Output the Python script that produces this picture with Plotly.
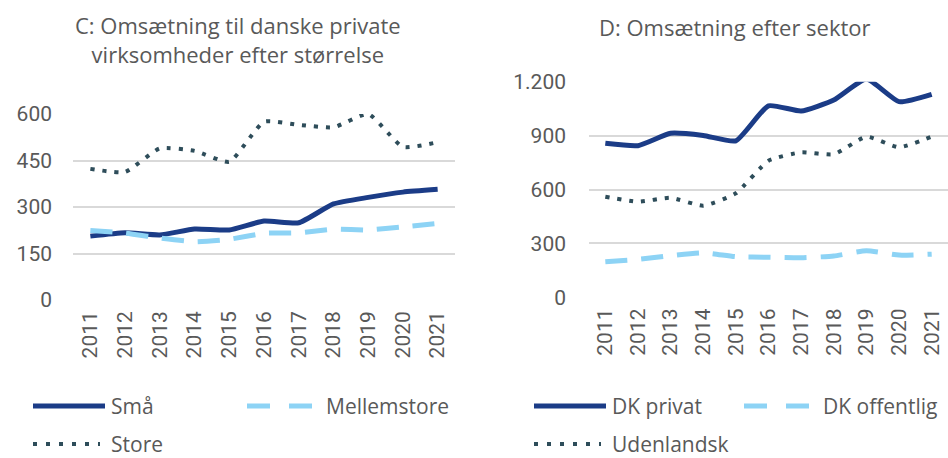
import plotly.graph_objects as go

years = ["2011", "2012", "2013", "2014", "2015", "2016", "2017", "2018", "2019", "2020", "2021"]

# Panel C: Omsætning til danske private virksomheder efter størrelse
smaa = [206, 217, 210, 229, 226, 255, 249, 310, 331, 348, 357]
mellemstore = [224, 216, 200, 188, 196, 215, 217, 228, 226, 236, 247]
store = [423, 413, 489, 481, 446, 575, 565, 557, 600, 494, 509]

# Panel D: Omsætning efter sektor
dk_privat = [857, 844, 913, 901, 871, 1066, 1037, 1098, 1215, 1089, 1130]
dk_offentlig = [198, 211, 232, 248, 226, 223, 220, 230, 259, 235, 240]
udenlandsk = [560, 532, 554, 510, 579, 760, 807, 796, 894, 835, 894]

names_c = ["Små", "Mellemstore", "Store"]
names_d = ["DK privat", "DK offentlig", "Udenlandsk"]
title_c = "C: Omsætning til danske private<br>virksomheder efter størrelse"
title_d = "D: Omsætning efter sektor"

W, H = 948, 458
NAVY = "#1B3C87"
LIGHT = "#8DD3F5"
SLATE = "#2E4D5A"
GREY = "#595959"
GRID = "#D9D9D9"
FONT = "Open Sans"
TICKFONT = "Roboto"

def px(x):
    return x / W

def py(y):
    return 1 - y / H

styles = [
    dict(color=NAVY, width=5, dash="solid"),
    dict(color=LIGHT, width=5, dash="22px,14px"),
    dict(color=SLATE, width=4, dash="4px,8px"),
]

fig = go.Figure()

for series, name, st in zip([smaa, mellemstore, store], names_c, styles):
    fig.add_trace(go.Scatter(x=years, y=series, name=name, mode="lines",
                             line=dict(shape="spline", smoothing=0.5, **st),
                             xaxis="x", yaxis="y", showlegend=False, cliponaxis=False))
for series, name, st in zip([dk_privat, dk_offentlig, udenlandsk], names_d, styles):
    fig.add_trace(go.Scatter(x=years, y=series, name=name, mode="lines",
                             line=dict(shape="spline", smoothing=0.5, **st),
                             xaxis="x2", yaxis="y2", showlegend=False, cliponaxis=False))

axis_common = dict(showline=False, zeroline=False, ticks="", automargin=False,
                   tickfont=dict(family=TICKFONT, size=21, color=GREY))
xrange = [-0.5, len(years) - 0.5]

fig.update_layout(
    width=W, height=H,
    margin=dict(l=0, r=0, t=0, b=0, autoexpand=False),
    paper_bgcolor="white", plot_bgcolor="white",
    separators=",.",
    showlegend=False,
    xaxis=dict(domain=[px(73), px(455)], anchor="y", showgrid=False, range=xrange,
               tickangle=-90, ticklabelstandoff=6, **axis_common),
    yaxis=dict(domain=[py(300), py(114)], anchor="x", range=[0, 600],
               tickvals=[0, 150, 300, 450, 600], showgrid=True,
               gridcolor=GRID, gridwidth=1.5, ticklabelstandoff=20, **axis_common),
    xaxis2=dict(domain=[px(589), px(948)], anchor="y2", showgrid=False, range=xrange,
                tickangle=-90, ticklabelstandoff=6, **axis_common),
    yaxis2=dict(domain=[py(297.3), py(81.7)], anchor="x2", range=[0, 1200],
                tickvals=[0, 300, 600, 900, 1200], tickformat=",d", showgrid=True,
                gridcolor=GRID, gridwidth=1.5, ticklabelstandoff=22, **axis_common),
)

annotations = [
    dict(text=title_c, x=px(238), y=py(40)),
    dict(text=title_d, x=px(735), y=py(27)),
]
for a in annotations:
    fig.add_annotation(xref="paper", yref="paper", xanchor="center", yanchor="middle",
                       showarrow=False, font=dict(family=FONT, size=22, color=GREY), **a)

# Manual legends (long keys as in the original)
legend_items = [
    (names_c[0], 33, 105, 110, 406, styles[0]),
    (names_c[1], 247, 314, 325, 406, styles[1]),
    (names_c[2], 33, 100, 110, 444, styles[2]),
    (names_d[0], 534, 606, 611, 406, styles[0]),
    (names_d[1], 744, 811, 822, 406, styles[1]),
    (names_d[2], 534, 601, 611, 444, styles[2]),
]
for name, x0, x1, tx, y, st in legend_items:
    dash = st["dash"]
    if dash == "22px,14px":
        dash = "23px,19px"
    elif dash == "4px,8px":
        dash = "4px,9px"
    fig.add_shape(type="line", xref="paper", yref="paper",
                  x0=px(x0), x1=px(x1), y0=py(y), y1=py(y),
                  line=dict(color=st["color"], width=st["width"], dash=dash))
    fig.add_annotation(xref="paper", yref="paper", x=px(tx), y=py(y),
                       xanchor="left", yanchor="middle", showarrow=False, borderpad=0,
                       text=name, font=dict(family=FONT, size=21, color=GREY))

fig.write_html("out.html",
               config={"displayModeBar": False},
               post_script="document.body.style.margin='0px';document.body.style.overflow='hidden';")
